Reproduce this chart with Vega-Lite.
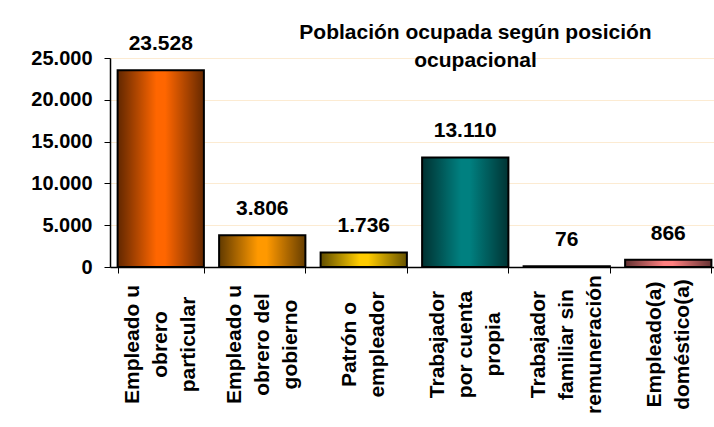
{
  "$schema": "https://vega.github.io/schema/vega-lite/v6.json",
  "autosize": {"type": "none"},
  "padding": {"left": 110, "top": 58, "right": 0, "bottom": 160},
  "width": 609,
  "height": 209,
  "background": "white",
  "config": {
    "locale": {"number": {"decimal": ",", "thousands": ".", "grouping": [3], "currency": ["$", ""]}},
    "view": {"stroke": null},
    "font": "Liberation Sans"
  },
  "title": {
    "text": ["Población ocupada según posición", "ocupacional"],
    "font": "Liberation Sans",
    "fontSize": 21,
    "fontWeight": "bold",
    "color": "black",
    "lineHeight": 28,
    "anchor": "middle",
    "frame": "group",
    "dx": 61,
    "offset": -38
  },
  "data": {
    "values": [
      {"cat": "Empleado u|obrero|particular", "v": 23528},
      {"cat": "Empleado u|obrero del|gobierno", "v": 3806},
      {"cat": "Patrón o|empleador", "v": 1736},
      {"cat": "Trabajador|por cuenta|propia", "v": 13110},
      {"cat": "Trabajador|familiar sin|remuneración", "v": 76},
      {"cat": "Empleado(a)|doméstico(a)", "v": 866}
    ]
  },
  "encoding": {
    "x": {
      "field": "cat",
      "type": "nominal",
      "sort": null,
      "scale": {"paddingInner": 0.15, "paddingOuter": 0.075},
      "axis": {
        "title": null,
        "labelAngle": 270,
        "labelAlign": "center",
        "labelBaseline": "middle",
        "labelExpr": "split(datum.label, '|')",
        "labelFont": "Liberation Sans",
        "labelFontSize": 21,
        "labelFontWeight": "bold",
        "labelColor": "black",
        "labelLineHeight": 28,
        "labelPadding": 71,
        "labelLimit": 0,
        "labelOffset": {"expr": "isString(datum.value) ? (1 - length(split(datum.value, '|'))) * 14 : 0"},
        "tickBand": "extent",
        "tickSize": 6,
        "tickColor": "black",
        "tickWidth": 1,
        "domainColor": "black",
        "domainWidth": 1.5
      }
    },
    "y": {
      "field": "v",
      "type": "quantitative",
      "scale": {"domain": [0, 25000], "nice": false},
      "axis": {
        "title": null,
        "values": [0, 5000, 10000, 15000, 20000, 25000],
        "format": ",d",
        "labelFont": "Liberation Sans",
        "labelFontSize": 20,
        "labelFontWeight": "bold",
        "labelColor": "black",
        "labelPadding": 12,
        "tickSize": 6,
        "tickColor": "black",
        "domainColor": "black",
        "domainWidth": 1.5,
        "grid": true,
        "gridColor": "#FCEBD2",
        "gridWidth": 1
      }
    }
  },
  "layer": [
    {
      "mark": {"type": "bar"},
      "encoding": {
        "color": {
          "field": "cat",
          "type": "nominal",
          "legend": null,
          "scale": {
            "domain": [
              "Empleado u|obrero|particular",
              "Empleado u|obrero del|gobierno",
              "Patrón o|empleador",
              "Trabajador|por cuenta|propia",
              "Trabajador|familiar sin|remuneración",
              "Empleado(a)|doméstico(a)"
            ],
            "range": ["#FF6600", "#FF9900", "#FFCC00", "#008080", "#333399", "#FF8080"]
          }
        }
      }
    },
    {
      "mark": {
        "type": "bar",
        "stroke": "black",
        "strokeWidth": 2,
        "fill": {
          "gradient": "linear",
          "x1": 0, "y1": 0, "x2": 1, "y2": 0,
          "stops": [
            {"offset": 0, "color": "rgba(0,0,0,0.62)"},
            {"offset": 0.45, "color": "rgba(0,0,0,0)"},
            {"offset": 0.55, "color": "rgba(0,0,0,0)"},
            {"offset": 1, "color": "rgba(0,0,0,0.6)"}
          ]
        }
      }
    },
    {
      "mark": {
        "type": "text",
        "font": "Liberation Sans",
        "fontSize": 21,
        "fontWeight": "bold",
        "color": "black",
        "baseline": "alphabetic",
        "dy": -20
      },
      "encoding": {
        "text": {"field": "v", "type": "quantitative", "format": ",d"}
      }
    }
  ]
}
